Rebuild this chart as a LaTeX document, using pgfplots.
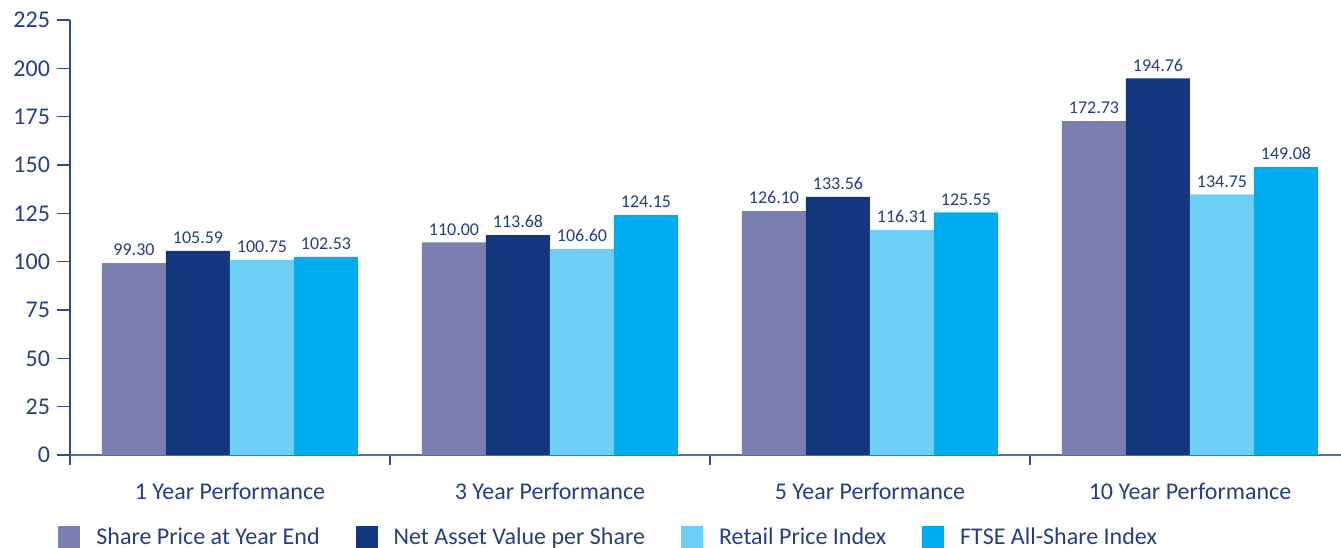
\documentclass[border=0pt]{standalone}
\usepackage{pgfplots}
\pgfplotsset{compat=1.18}
\usepackage{fontspec}
\setmainfont{Carlito}
\definecolor{cSP}{RGB}{123,127,176}
\definecolor{cNAV}{RGB}{19,55,125}
\definecolor{cRPI}{RGB}{107,207,246}
\definecolor{cFTSE}{RGB}{0,174,239}
\definecolor{ctext}{RGB}{38,62,130}
\definecolor{cyax}{RGB}{45,75,145}
\definecolor{cxax}{RGB}{80,110,170}
\begin{document}
\begin{tikzpicture}
\begin{axis}[
  scale only axis,
  width=635.5pt, height=217.5pt,
  xmin=-0.5, xmax=3.4719,
  ymin=0, ymax=225,
  ytick={0,25,...,225},
  xtick={0,1,2,3},
  xticklabels={1 Year Performance,3 Year Performance,5 Year Performance,10 Year Performance},
  minor xtick={-0.5,0.5,1.5,2.5},
  major x tick style={draw=none},
  minor tick length=5pt,
  major tick length=6.5pt,
  tick align=outside,
  xticklabel style={yshift=-4pt},
  axis x line*=bottom,
  axis y line*=left,
  x axis line style={-, draw=cxax, line width=1pt},
  y axis line style={-, draw=cyax, line width=0.8pt},
  every tick/.style={draw=cyax, line width=0.8pt},
  ytick style={draw=cyax, line width=0.8pt},
  minor x tick style={draw=cyax, line width=0.8pt},
  tick label style={font=\fontsize{12}{14}\selectfont, text=ctext},
  /pgf/number format/assume math mode=true,
  ybar=0pt, bar width=32pt,
  nodes near coords={\pgfmathprintnumber[fixed,fixed zerofill,precision=2,assume math mode=true]{\pgfplotspointmeta}},
  every node near coord/.append style={font=\fontsize{9}{10}\selectfont, text=ctext},
  legend columns=4,
  legend style={at={(axis description cs:0,0)}, anchor=north west, xshift=-6pt, yshift=-34pt,
    draw=none, fill=none, inner sep=0pt, font=\fontsize{12}{14}\selectfont, text=ctext,
    /tikz/every odd column/.append style={column sep=6pt},
    /tikz/every even column/.append style={column sep=16pt}},
  legend image code/.code={\fill[#1] (0pt,-5.5pt) rectangle (11pt,5.5pt);},
  clip=false,
]
\addplot[fill=cSP, draw=none] coordinates {(0,99.30) (1,110.00) (2,126.10) (3,172.73)};
\addplot[fill=cNAV, draw=none] coordinates {(0,105.59) (1,113.68) (2,133.56) (3,194.76)};
\addplot[fill=cRPI, draw=none] coordinates {(0,100.75) (1,106.60) (2,116.31) (3,134.75)};
\addplot[fill=cFTSE, draw=none] coordinates {(0,102.53) (1,124.15) (2,125.55) (3,149.08)};
\legend{Share Price at Year End,Net Asset Value per Share,Retail Price Index,FTSE All-Share Index}
\coordinate (bl) at (rel axis cs:0,0);
\coordinate (tr) at (rel axis cs:1,1);
\end{axis}
\pgfresetboundingbox
\path[use as bounding box] ([xshift=-35pt,yshift=-46.5pt]bl) rectangle ([yshift=10pt]tr);
\end{tikzpicture}
\end{document}
